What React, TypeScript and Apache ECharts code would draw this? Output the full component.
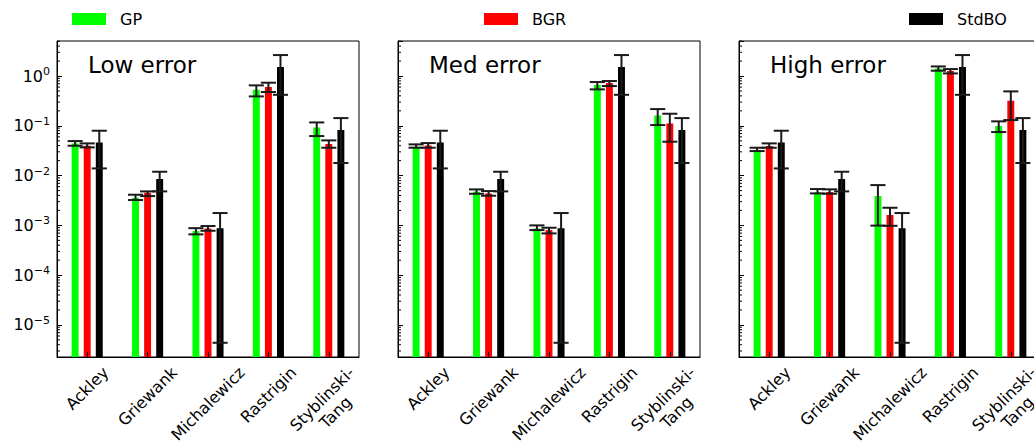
import React, { useEffect, useRef } from 'react';
import * as echarts from 'echarts';

const FONT = '"DejaVu Sans", Verdana, sans-serif';

const categories = ['Ackley', 'Griewank', 'Michalewicz', 'Rastrigin', 'Styblinski-\nTang'];
const panelTitles = ['Low error', 'Med error', 'High error'];
const methods = ['GP', 'BGR', 'StdBO'];
const methodColors = ['#00ff00', '#ff0000', '#000000'];

// Low error
const gpLow = [0.0444, 0.0036, 0.00077, 0.53, 0.093];
const gpLowLo = [0.0398, 0.00323, 0.00066, 0.39, 0.0623];
const gpLowHi = [0.0494, 0.00413, 0.00088, 0.65, 0.117];
const bgrLow = [0.0398, 0.00453, 0.00087, 0.6, 0.043];
const bgrLowLo = [0.0369, 0.00388, 0.00078, 0.477, 0.0363];
const bgrLowHi = [0.0444, 0.00482, 0.00097, 0.735, 0.051];

// Med error
const gpMed = [0.038, 0.00474, 0.00087, 0.659, 0.162];
const gpMedLo = [0.0363, 0.00432, 0.000805, 0.54, 0.1036];
const gpMedHi = [0.0424, 0.00528, 0.001, 0.758, 0.217];
const bgrMed = [0.0404, 0.00439, 0.000805, 0.723, 0.112];
const bgrMedLo = [0.0363, 0.00394, 0.00069, 0.63, 0.048];
const bgrMedHi = [0.045, 0.00489, 0.000897, 0.794, 0.175];

// High error
const gpHigh = [0.0326, 0.0046, 0.00388, 1.426, 0.0989];
const gpHighLo = [0.0311, 0.00439, 0.00099, 1.28, 0.075];
const gpHighHi = [0.0363, 0.00537, 0.00645, 1.56, 0.123];
const bgrHigh = [0.0392, 0.00466, 0.00161, 1.26, 0.319];
const bgrHighLo = [0.0363, 0.00432, 0.00098, 1.13, 0.1306];
const bgrHighHi = [0.0444, 0.0053, 0.00226, 1.38, 0.492];

// Standard BO (same in every panel)
const stdBO = [0.0465, 0.0085, 0.00088, 1.52, 0.082];
const stdBOLo = [0.01395, 0.00482, 4.38e-6, 0.42, 0.0179];
const stdBOHi = [0.0797, 0.01196, 0.00177, 2.64, 0.143];

const Y_MIN = 2.27e-6;
const Y_MAX = 5.06;

const panelSeries = [
  [[gpLow, gpLowLo, gpLowHi], [bgrLow, bgrLowLo, bgrLowHi], [stdBO, stdBOLo, stdBOHi]],
  [[gpMed, gpMedLo, gpMedHi], [bgrMed, bgrMedLo, bgrMedHi], [stdBO, stdBOLo, stdBOHi]],
  [[gpHigh, gpHighLo, gpHighHi], [bgrHigh, bgrHighLo, bgrHighHi], [stdBO, stdBOLo, stdBOHi]],
];

const gridLefts = [57, 398, 739];
const GRID_TOP = 41;
const GRID_W = 302;
const GRID_H = 316;
const legendLefts = [72, 484, 909];

const LABEL_SIZE = 16;
const LABEL_LH = 19;

function minorTickValues(): number[] {
  const out: number[] = [];
  for (let e = -7; e <= 1; e++) {
    for (let m = 2; m <= 9; m++) {
      const v = m * Math.pow(10, e);
      if (v > Y_MIN && v < Y_MAX) out.push(v);
    }
  }
  return out;
}

export default function App() {
  const ref = useRef<HTMLDivElement>(null);

  useEffect(() => {
    if (!ref.current) return;
    const chart = echarts.init(ref.current, undefined, { renderer: 'svg' });

    // Rich styles that centre each rotated label's bounding box under its tick
    const ctx = document.createElement('canvas').getContext('2d') as CanvasRenderingContext2D;
    ctx.font = `${LABEL_SIZE}px ${FONT}`;
    const labelRich: any = {};
    const labelText: string[] = [];
    categories.forEach((c, idx) => {
      const lines = c.split('\n');
      const L = Math.max(...lines.map((l) => ctx.measureText(l).width));
      const H = lines.length * LABEL_LH;
      const p = (L + H) / 2;
      labelRich[`c${idx}`] = {
        fontSize: LABEL_SIZE,
        lineHeight: LABEL_LH,
        fontFamily: FONT,
        color: '#000',
        padding: [p, p, 0, 0],
      };
      labelText[idx] = lines.map((l) => `{c${idx}|${l}}`).join('\n');
    });

    const barRender = (slot: number, color: string) => (params: any, api: any) => {
      const cat = api.value(0);
      const top = api.coord([cat, api.value(1)]);
      const band = api.size([1, 0])[0];
      const cs = params.coordSys;
      const w = band * 0.115;
      const cx = top[0] + slot * band * 0.2;
      const bottom = cs.y + cs.height;
      return {
        type: 'rect',
        shape: { x: cx - w / 2, y: top[1], width: w, height: bottom - top[1] },
        style: { fill: color },
      };
    };

    const errRender = (slot: number) => (params: any, api: any) => {
      const cat = api.value(0);
      const band = api.size([1, 0])[0];
      const lo = api.coord([cat, api.value(2)]);
      const hi = api.coord([cat, api.value(3)]);
      const cx = hi[0] + slot * band * 0.2;
      const half = band * 0.125;
      const style = { stroke: '#1a1a1a', lineWidth: 2, fill: 'none' };
      return {
        type: 'group',
        children: [
          { type: 'line', shape: { x1: cx, y1: hi[1], x2: cx, y2: lo[1] }, style },
          { type: 'line', shape: { x1: cx - half, y1: hi[1], x2: cx + half, y2: hi[1] }, style },
          { type: 'line', shape: { x1: cx - half, y1: lo[1], x2: cx + half, y2: lo[1] }, style },
        ],
      };
    };

    const minorRender = (params: any, api: any) => {
      const y = api.coord([0, api.value(1)])[1];
      const x = params.coordSys.x;
      return {
        type: 'line',
        shape: { x1: x, y1: y, x2: x + 3, y2: y },
        style: { stroke: '#000', lineWidth: 1 },
      };
    };

    const minorData = minorTickValues().map((v) => [0, v]);

    const series: any[] = [];
    for (let p = 0; p < 3; p++) {
      for (let m = 0; m < 3; m++) {
        const [mean, lo, hi] = panelSeries[p][m];
        const data = categories.map((_, i) => [i, mean[i], lo[i], hi[i]]);
        series.push({
          type: 'custom',
          name: methods[m],
          xAxisIndex: p,
          yAxisIndex: p,
          itemStyle: { color: methodColors[m] },
          renderItem: barRender(m - 1, methodColors[m]),
          data,
          z: 2,
          silent: true,
        });
      }
      for (let m = 0; m < 3; m++) {
        const [mean, lo, hi] = panelSeries[p][m];
        const data = categories.map((_, i) => [i, mean[i], lo[i], hi[i]]);
        series.push({
          type: 'custom',
          name: `${methods[m]} spread`,
          xAxisIndex: p,
          yAxisIndex: p,
          itemStyle: { color: '#1a1a1a' },
          renderItem: errRender(m - 1),
          data,
          z: 3,
          silent: true,
        });
      }
      series.push({
        type: 'custom',
        name: 'minor ticks',
        xAxisIndex: p,
        yAxisIndex: p,
        renderItem: minorRender,
        data: minorData,
        z: 4,
        silent: true,
      });
    }

    const option: any = {
      animation: false,
      backgroundColor: '#ffffff',
      textStyle: { fontFamily: FONT },
      title: panelTitles.map((t, i) => ({
        text: t,
        left: gridLefts[i] + 31,
        top: 53,
        padding: 0,
        textStyle: { fontSize: 23, fontWeight: 'normal', fontFamily: FONT, color: '#000' },
      })),
      legend: methods.map((name, i) => ({
        data: [name],
        left: legendLefts[i],
        top: 11,
        padding: 0,
        itemWidth: 34,
        itemHeight: 12,
        icon: 'rect',
        selectedMode: false,
        textStyle: { fontSize: 16, fontFamily: FONT, color: '#000', padding: [0, 0, 0, 9] },
      })),
      grid: gridLefts.map((l) => ({
        left: l,
        top: GRID_TOP,
        width: GRID_W,
        height: GRID_H,
        show: true,
        borderColor: '#000',
        borderWidth: 1,
        backgroundColor: 'transparent',
        containLabel: false,
        outerBoundsMode: 'none',
      })),
      xAxis: gridLefts.map((_, i) => ({
        type: 'category',
        gridIndex: i,
        data: categories,
        z: 5,
        axisLine: { show: true, lineStyle: { color: '#000', width: 1 } },
        axisTick: { show: true, inside: true, length: 5, alignWithLabel: true, lineStyle: { color: '#000', width: 1 } },
        splitLine: { show: false },
        axisLabel: {
          interval: 0,
          rotate: 45,
          margin: 6,
          fontSize: LABEL_SIZE,
          lineHeight: LABEL_LH,
          fontFamily: FONT,
          color: '#000',
          align: 'center',
          verticalAlign: 'middle',
          hideOverlap: false,
          formatter: (_v: string, idx: number) => labelText[idx],
          rich: labelRich,
        },
      })),
      yAxis: gridLefts.map((_, i) => ({
        type: 'log',
        logBase: 10,
        gridIndex: i,
        min: Y_MIN,
        max: Y_MAX,
        z: 5,
        axisLine: { show: true, lineStyle: { color: '#000', width: 1 } },
        axisTick: { show: true, inside: true, length: 5, lineStyle: { color: '#000', width: 1 } },
        splitLine: { show: false },
        minorTick: { show: false },
        axisLabel: {
          show: i === 0,
          margin: 7,
          showMinLabel: false,
          showMaxLabel: false,
          color: '#000',
          fontFamily: FONT,
          formatter: (v: number) => {
            const e = Math.round(Math.log10(v));
            return `{b|10}{s|${e < 0 ? '\u2212' + -e : e}}`;
          },
          rich: {
            b: { fontSize: 16, lineHeight: 20, fontFamily: FONT, color: '#000' },
            s: { fontSize: 11, lineHeight: 11, verticalAlign: 'top', fontFamily: FONT, color: '#000' },
          },
        },
      })),
      series,
    };

    chart.setOption(option);
    return () => chart.dispose();
  }, []);

  return (
    <div
      ref={ref}
      style={{ position: 'fixed', left: 0, top: 0, width: 1050, height: 445, background: '#fff' }}
    />
  );
}
